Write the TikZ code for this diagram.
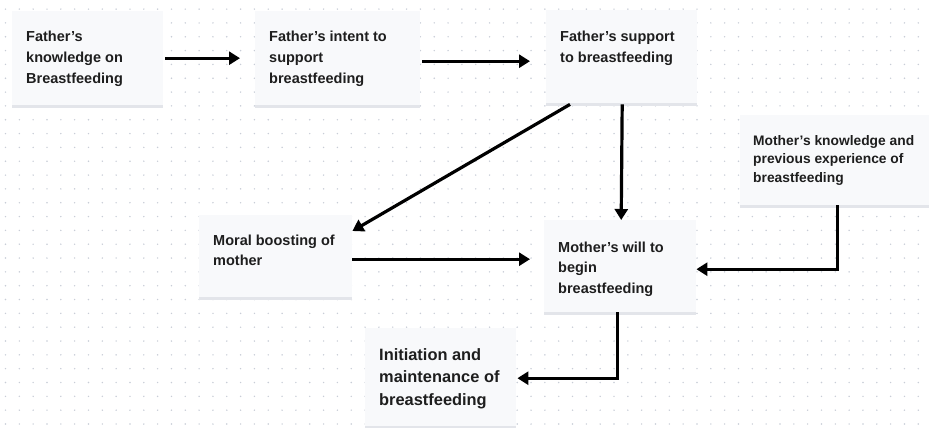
\documentclass[tikz,border=0pt]{standalone}
\usepackage{fontspec}
\setmainfont{Liberation Sans}
\usetikzlibrary{arrows.meta,shadows}
\definecolor{boxfill}{HTML}{F8F9FB}
\definecolor{boxshadow}{HTML}{E3E5EA}
\definecolor{dotc}{HTML}{C8CDD7}
\definecolor{txtc}{HTML}{1E1E1E}
\begin{document}
\begin{tikzpicture}[x=1pt,y=-1pt,
  box/.style={fill=boxfill, draw=none, inner sep=0pt, anchor=north west,
    drop shadow={shadow xshift=0pt, shadow yshift=-2.5pt, fill=boxshadow, opacity=1}},
  arr/.style={line width=3.2pt, draw=black, -{Triangle[length=11pt,width=13pt]}},
  lbl/.style={anchor=base west, inner sep=0pt, text=txtc, font=\bfseries\fontsize{14.5}{20.6}\selectfont},
  lblbig/.style={lbl, font=\bfseries\fontsize{16.4}{22.5}\selectfont},
  lblsmall/.style={lbl, font=\bfseries\fontsize{13.8}{18.5}\selectfont}]
\useasboundingbox (0,0) rectangle (929,428);
\fill[white] (0,0) rectangle (929,428);
\foreach \i in {0,...,66} \foreach \j in {0,...,30}
  \fill[dotc] (5.5+13.83*\i, 9.1+13.83*\j) circle (0.8);

\node[box, minimum width=151pt, minimum height=94pt] (b1) at (12,11) {};
\node[box, minimum width=165pt, minimum height=94pt] (b2) at (255,11) {};
\node[box, minimum width=151pt, minimum height=93pt] (b3) at (546,10) {};
\node[box, minimum width=189pt, minimum height=90pt] (b4) at (740,115) {};
\node[box, minimum width=152pt, minimum height=92pt] (b5) at (544,220) {};
\node[box, minimum width=153pt, minimum height=82pt] (b6) at (199,215) {};
\node[box, minimum width=151pt, minimum height=98pt] (b7) at (365,328) {};

\node[lbl] (t1) at ([xshift=14pt,yshift=-31pt]b1.north west)
  {\begin{tabular}[t]{@{}l@{}}Father’s\\knowledge on\\Breastfeeding\end{tabular}};
\node[lbl] (t2) at ([xshift=14pt,yshift=-31pt]b2.north west)
  {\begin{tabular}[t]{@{}l@{}}Father’s intent to\\support\\breastfeeding\end{tabular}};
\node[lbl] (t3) at ([xshift=14pt,yshift=-31.5pt]b3.north west)
  {\begin{tabular}[t]{@{}l@{}}Father’s support\\to breastfeeding\end{tabular}};
\node[lblsmall] (t4) at ([xshift=13pt,yshift=-30pt]b4.north west)
  {\begin{tabular}[t]{@{}l@{}}Mother’s knowledge and\\previous experience of\\breastfeeding\end{tabular}};
\node[lbl] (t5) at ([xshift=14pt,yshift=-32pt]b5.north west)
  {\begin{tabular}[t]{@{}l@{}}Mother’s will to\\begin\\breastfeeding\end{tabular}};
\node[lbl] (t6) at ([xshift=14pt,yshift=-30pt]b6.north west)
  {\begin{tabular}[t]{@{}l@{}}Moral boosting of\\mother\end{tabular}};
\node[lblbig] (t7) at ([xshift=14pt,yshift=-32pt]b7.north west)
  {\begin{tabular}[t]{@{}l@{}}Initiation and\\maintenance of\\breastfeeding\end{tabular}};

\draw[arr] ([xshift=2pt]b1.east) -- ([xshift=-15pt]b2.west);
\draw[arr] ([xshift=2pt,yshift=-3pt]b2.east) -- ([xshift=-16pt,yshift=-4.5pt]b3.west);
\draw[arr] ([xshift=24pt,yshift=-1pt]b3.south west) -- ([yshift=-16pt]b6.north east);
\draw[arr] ([xshift=0.5pt,yshift=-1pt]b3.south) -- ([xshift=1pt]b5.north);
\draw[arr] ([yshift=-3pt]b6.east) -- ([xshift=-14pt,yshift=7pt]b5.west);
\draw[arr] ([xshift=2.5pt]b4.south) |- ([yshift=-3pt]b5.east);
\draw[arr] ([xshift=-3pt]b5.south) |- ([xshift=1pt,yshift=-1pt]b7.east);
\end{tikzpicture}
\end{document}
